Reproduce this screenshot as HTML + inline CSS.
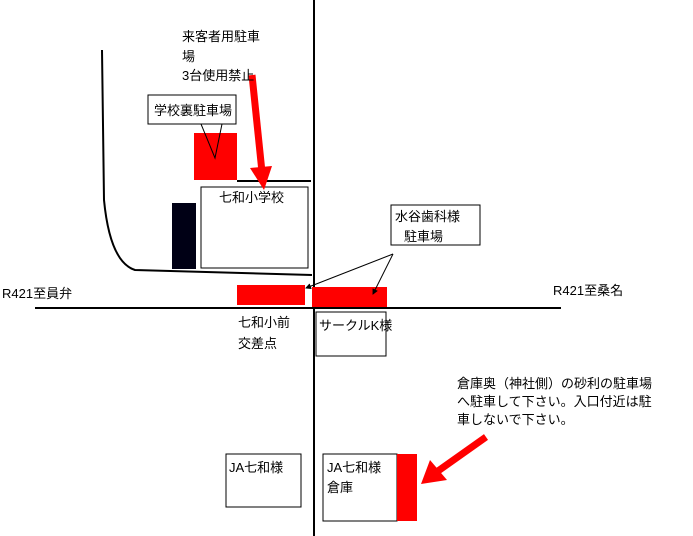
<!DOCTYPE html>
<html><head><meta charset="utf-8"><style>
html,body{margin:0;padding:0;background:#fff;width:693px;height:536px;overflow:hidden}
svg text{font-family:"Liberation Sans","Noto Sans CJK JP",sans-serif;font-size:13px;fill:#000}
</style></head><body>
<svg width="693" height="536" xmlns="http://www.w3.org/2000/svg">
<defs><marker id="a" markerWidth="6" markerHeight="6" refX="5" refY="3" orient="auto"><path d="M0,0 L6,3 L0,6 z" fill="#000"/></marker></defs>
<line x1="314" y1="0" x2="314" y2="536" stroke="#000" stroke-width="2"/>
<line x1="35" y1="308" x2="561" y2="308" stroke="#000" stroke-width="2"/>
<path d="M102,50 L104,200 Q110,262 135,270 L312,275" fill="none" stroke="#000" stroke-width="2"/>
<line x1="237" y1="181" x2="311" y2="181" stroke="#000" stroke-width="2"/>
<rect x="194" y="133" width="43" height="47" fill="#f00"/>
<rect x="148" y="95" width="88" height="29" fill="#fff" stroke="#000"/>
<text x="154" y="115" font-size="12">学校裏駐車場</text>
<polyline points="201,124 215,158 222,124" fill="none" stroke="#000"/>
<rect x="172" y="203" width="24" height="66" fill="#000015"/>
<rect x="201" y="187" width="107" height="81" fill="#fff" stroke="#000"/>
<text x="219" y="202">七和小学校</text>
<line x1="252" y1="75" x2="262" y2="172" stroke="#f00" stroke-width="7"/>
<polygon points="250,168 272,166 264,190" fill="#f00"/>
<text x="182" y="41">来客者用駐車</text>
<text x="182" y="61">場</text>
<text x="182" y="80">3台使用禁止</text>
<rect x="237" y="285" width="68" height="20" fill="#f00"/>
<rect x="312" y="287" width="75" height="20" fill="#f00"/>
<rect x="391" y="205" width="89" height="40" fill="#fff" stroke="#000"/>
<text x="395" y="221">水谷歯科様</text>
<text x="404" y="241">駐車場</text>
<line x1="393" y1="254" x2="306" y2="288" stroke="#000" marker-end="url(#a)"/>
<line x1="393" y1="254" x2="373" y2="294" stroke="#000" marker-end="url(#a)"/>
<text x="2" y="298" font-size="12">R421至員弁</text>
<text x="553" y="295" font-size="12">R421至桑名</text>
<text x="238" y="327">七和小前</text>
<text x="238" y="348">交差点</text>
<rect x="316" y="312" width="70" height="44" fill="#fff" stroke="#000"/>
<text x="319" y="330" font-size="11">サークルK様</text>
<rect x="226" y="454" width="75" height="53" fill="#fff" stroke="#000"/>
<text x="229" y="472">JA七和様</text>
<rect x="323" y="454" width="74" height="67" fill="#fff" stroke="#000"/>
<text x="327" y="472">JA七和様</text>
<text x="327" y="492">倉庫</text>
<rect x="397" y="454" width="20" height="67" fill="#f00"/>
<text x="457" y="388">倉庫奥（神社側）の砂利の駐車場</text>
<text x="457" y="406">へ駐車して下さい。入口付近は駐</text>
<text x="457" y="424">車しないで下さい。</text>
<line x1="486" y1="437" x2="438" y2="471" stroke="#f00" stroke-width="7"/>
<polygon points="430,460 447,480 421,484" fill="#f00"/>
</svg>
</body></html>
